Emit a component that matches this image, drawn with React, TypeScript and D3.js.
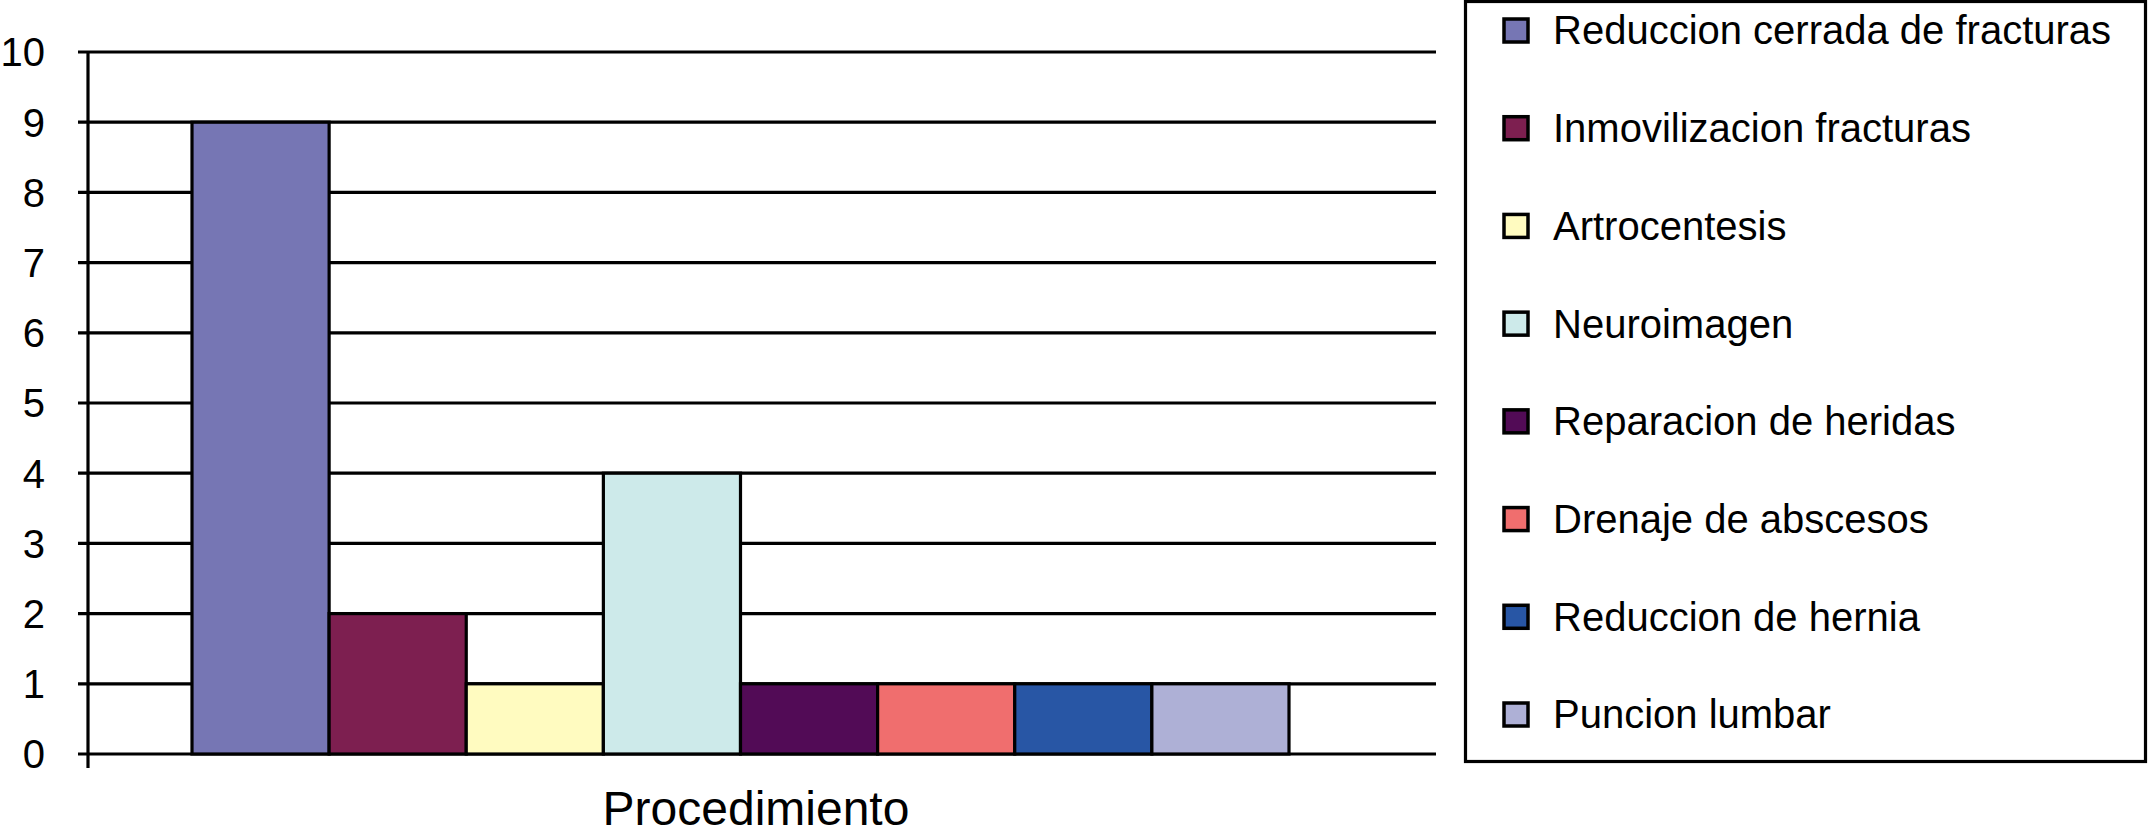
import { useEffect, useRef } from 'react'
import * as d3 from 'd3'

const seriesNames = [
  'Reduccion cerrada de fracturas',
  'Inmovilizacion fracturas',
  'Artrocentesis',
  'Neuroimagen',
  'Reparacion de heridas',
  'Drenaje de abscesos',
  'Reduccion de hernia',
  'Puncion lumbar',
]
const seriesValues = [9, 2, 1, 4, 1, 1, 1, 1]
const seriesColors = [
  '#7676b4',
  '#7d1f50',
  '#fffbc0',
  '#cdeaea',
  '#520b56',
  '#f06e6e',
  '#2856a5',
  '#aeb0d6',
]
const yTicks = [0, 1, 2, 3, 4, 5, 6, 7, 8, 9, 10]
const categoryLabel = 'Procedimiento'

const FONT = "'Liberation Sans', Arial, Helvetica, sans-serif"

const App = () => {
  const svgRef = useRef<SVGSVGElement | null>(null)

  useEffect(() => {
    const svg = d3.select(svgRef.current)
    svg.selectAll('*').remove()

    const width = 2149
    const height = 837

    // plot area
    const plotLeft = 88
    const plotRight = 1436
    const yTop = 52
    const yBottom = 754

    const y = d3.scaleLinear().domain([0, 10]).range([yBottom, yTop])

    // bars sit inside the single category, Excel-like gaps on each side
    const x = d3
      .scaleBand()
      .domain(seriesNames)
      .range([192, 1289])
      .padding(0)

    svg.attr('width', width).attr('height', height)

    svg
      .append('rect')
      .attr('width', width)
      .attr('height', height)
      .attr('fill', 'white')

    const g = svg.append('g')

    // gridlines + ticks
    g.selectAll('line.grid')
      .data(yTicks)
      .enter()
      .append('line')
      .attr('class', 'grid')
      .attr('x1', plotLeft - 10)
      .attr('x2', plotRight)
      .attr('y1', (d) => y(d))
      .attr('y2', (d) => y(d))
      .attr('stroke', '#000')
      .attr('stroke-width', 3.2)

    // tick labels
    g.selectAll('text.ytick')
      .data(yTicks)
      .enter()
      .append('text')
      .attr('class', 'ytick')
      .attr('x', 45)
      .attr('y', (d) => y(d))
      .attr('dy', '0.36em')
      .attr('text-anchor', 'end')
      .style('font-family', FONT)
      .style('font-size', '40px')
      .attr('fill', '#000')
      .text((d) => d)

    // bars
    g.selectAll('rect.bar')
      .data(seriesValues)
      .enter()
      .append('rect')
      .attr('class', 'bar')
      .attr('x', (d, i) => x(seriesNames[i]) as number)
      .attr('y', (d) => y(d))
      .attr('width', x.bandwidth())
      .attr('height', (d) => y(0) - y(d))
      .attr('fill', (d, i) => seriesColors[i])
      .attr('stroke', '#000')
      .attr('stroke-width', 3.2)

    // y axis line (with the category tick below zero)
    g.append('line')
      .attr('x1', plotLeft)
      .attr('x2', plotLeft)
      .attr('y1', yTop)
      .attr('y2', yBottom + 14)
      .attr('stroke', '#000')
      .attr('stroke-width', 3.2)

    // category label
    g.append('text')
      .attr('x', 756)
      .attr('y', 825)
      .attr('text-anchor', 'middle')
      .style('font-family', FONT)
      .style('font-size', '48px')
      .attr('fill', '#000')
      .text(categoryLabel)

    // legend
    const legend = svg.append('g')
    legend
      .append('rect')
      .attr('x', 1465.5)
      .attr('y', 1.5)
      .attr('width', 680)
      .attr('height', 760)
      .attr('fill', 'white')
      .attr('stroke', '#000')
      .attr('stroke-width', 3.2)

    const rowY = d3
      .scalePoint()
      .domain(seriesNames)
      .range([30, 714])

    const items = legend
      .selectAll('g.item')
      .data(seriesNames)
      .enter()
      .append('g')
      .attr('class', 'item')
      .attr('transform', (d) => `translate(0, ${rowY(d)})`)

    items
      .append('rect')
      .attr('x', 1504)
      .attr('y', -11)
      .attr('width', 24)
      .attr('height', 23)
      .attr('fill', (d, i) => seriesColors[i])
      .attr('stroke', '#000')
      .attr('stroke-width', 3.5)

    items
      .append('text')
      .attr('x', 1553)
      .attr('y', 0)
      .attr('dy', '0.36em')
      .style('font-family', FONT)
      .style('font-size', '40px')
      .attr('fill', '#000')
      .text((d) => d)
  }, [])

  return (
    <svg
      ref={svgRef}
      style={{ position: 'absolute', left: 0, top: 0, display: 'block' }}
    ></svg>
  )
}

export default App
